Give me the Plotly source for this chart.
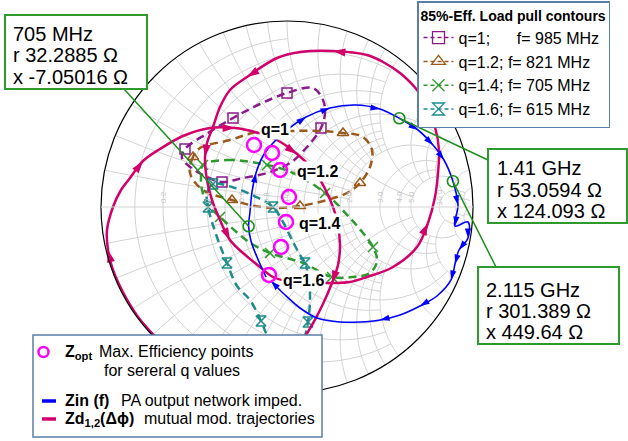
import numpy as np
import plotly.graph_objects as go

W, H = 628, 441
FONT = "Liberation Sans, Arial, sans-serif"
Z0 = 50.0

# ---- marked frequencies of Zin(f) (ohms) ----
MARK_FREQ = ["705 MHz", "1.41 GHz", "2.115 GHz"]
MARK_R = [32.2885, 53.0594, 301.389]
MARK_X = [-7.05016, 124.093, 449.64]

# ---- Zin(f): PA output network impedance, normalised to Z0, split at the marks ----
ZIN_R_A = [0.6127, 0.6346, 0.6373]
ZIN_X_A = [-0.5454, -0.3784, -0.2508]
ZIN_R_B = [0.6673, 0.6755, 0.6732, 0.6728, 0.6872, 0.7074, 0.7262, 0.7585, 0.8043, 0.8954]
ZIN_X_B = [-0.0374, 0.1137, 0.2622, 0.4062, 0.5399, 0.7068, 0.9303, 1.2175, 1.5597, 1.9972]
ZIN_R_C = [1.285, 1.733, 2.537]
ZIN_X_C = [3.199, 4.237, 5.732]
ZIN_R_D = [23.4, 8.775, 6.44, 0.886, 1.547, 0.874, 0.4079, 0.453, 0.5635, 0.598,
           0.6153, 0.6171, 0.6004, 0.5831, 0.6037, 0.6241, 0.6237]
ZIN_X_D = [3.25, -10.32, -22.3, -11.7, -7.822, -5.935, -4.672, -3.592, -2.921, -2.364,
           -1.963, -1.646, -1.3838, -1.1264, -0.9363, -0.7476, -0.5948]
ZIN_ARROWS = [6, 10, 11, 13, 15, 16, 17, 19, 20, 22, 23, 24, 25, 27, 29, 35]

# ---- Zd1(dphi) and Zd2(dphi) mutual modulation trajectories ----
ZD1_R = [0.0462, 0.00775, 0.00282, 0.00334, 0.00263, 0.00523, 0.0124, 0.0333, 0.0544, 0.0768,
         0.1058, 0.149, 0.2102, 0.2974, 0.4079, 0.5258, 0.6806, 0.9379, 1.2443, 1.548,
         1.7105, 1.5859, 1.3262, 1.0444, 0.723, 0.5031, 0.3555, 0.2407, 0.1383, 0.0462]
ZD1_X = [-0.589, -0.4578, -0.3484, -0.2566, -0.1755, -0.1184, -0.0636, 0.0, 0.0509, 0.091,
         0.1541, 0.2129, 0.2963, 0.3897, 0.4673, 0.5249, 0.5772, 0.5836, 0.4972, 0.2109,
         -0.2591, -0.7388, -0.9994, -1.1019, -1.1296, -1.1017, -1.0543, -0.9569, -0.8042, -0.589]
ZD1_ARROWS = [5, 10, 14, 17, 23]

ZD2_R = [0.8024, 1.0444, 1.2047, 1.4437, 1.976, 3.3986, 6.339, 8.155, 4.468, 1.8713,
         0.8021, 0.4123, 0.2382, 0.1662, 0.1495, 0.1483, 0.1854, 0.1928, 0.2028, 0.2368,
         0.2428, 0.2717, 0.307, 0.322, 0.3414, 0.3842, 0.4243, 0.4665, 0.5031, 0.5552,
         0.6181, 0.657, 0.7405]
ZD2_X = [-0.7918, -1.1019, -1.3443, -1.6138, -2.232, -3.1419, -2.6094, 2.4093, 5.312, 4.8136,
         3.794, 3.0703, 2.5869, 2.1408, 1.852, 1.6466, 1.3208, 1.0687, 0.9144, 0.7114,
         0.5984, 0.5026, 0.4022, 0.3181, 0.2503, 0.1405, 0.0382, -0.0754, -0.2041, -0.311,
         -0.4558, -0.58, -0.7133]
ZD2_ARROWS = [6, 16, 19, 24, 28]

# ---- optimum-efficiency impedances, q = 1 ... 1.6 ----
ZOPT_R = [0.5726, 0.7262, 0.8592, 1.0159, 0.9766, 0.8568, 0.6411]
ZOPT_X = [0.4452, 0.4637, 0.3564, 0.1096, -0.1585, -0.3869, -0.547]

# ---- 85 % efficiency load-pull contours ----
LP_NAMES = ["q=1;\u00a0\u00a0\u00a0\u00a0\u00a0\u00a0f= 985 MHz", "q=1.2; f= 821 MHz",
            "q=1.4; f= 705 MHz", "q=1.6; f= 615 MHz"]
LP_R = [
    [0.2413, 0.3022, 0.3626, 0.4155, 0.4539, 0.4969, 0.6436, 0.791, 0.9269, 0.982,
     0.9217, 0.7579, 0.5921, 0.4675, 0.3809, 0.2887, 0.2431, 0.2413],
    [0.3018, 0.2875, 0.2958, 0.3723, 0.5423, 0.668, 0.86, 1.1502, 1.5421, 1.9164,
     2.15, 2.1383, 1.7935, 1.4071, 1.1613, 0.9502, 0.7338, 0.5369, 0.4227, 0.3018],
    [0.3452, 0.4589, 0.7338, 0.9955, 1.4912, 2.0004, 2.2029, 2.2069, 1.9436, 1.5604,
     1.3035, 1.1166, 0.974, 0.743, 0.6211, 0.4681, 0.4037, 0.3673, 0.3512, 0.3452],
    [0.2578, 0.3113, 0.3611, 0.421, 0.4174, 0.4377, 0.4348, 0.4206, 0.4038, 0.3946,
     0.4197, 0.533, 0.6783, 0.86, 0.9458, 0.9891, 0.9966, 0.9929, 0.876, 0.7217,
     0.5174, 0.3593, 0.263],
]
LP_X = [
    [0.25, 0.3636, 0.5053, 0.6845, 0.8911, 1.1134, 1.1725, 1.1375, 1.0015, 0.7164,
     0.462, 0.2901, 0.2007, 0.1462, 0.1557, 0.1822, 0.2093, 0.25],
    [0.2813, 0.2299, 0.1557, 0.0864, 0.0448, 0.015, -0.0093, 0.0124, 0.1219, 0.324,
     0.669, 1.2188, 1.5765, 1.5318, 1.2302, 0.9687, 0.72, 0.5337, 0.3923, 0.2813],
    [0.2093, 0.2787, 0.3535, 0.3769, 0.2357, -0.2683, -0.757, -1.2828, -1.6558, -1.6406,
     -1.3326, -1.0508, -0.6503, -0.395, -0.2533, -0.058, 0.0106, 0.0858, 0.149, 0.2093],
    [-0.8636, -0.7982, -0.7319, -0.5926, -0.4745, -0.3273, -0.1857, -0.0816, 0.0, 0.0734,
     0.1256, 0.1272, 0.0911, 0.0, -0.1536, -0.3627, -0.554, -0.6643, -0.8579, -0.9823,
     -1.0576, -1.0698, -1.0586],
]
LP_MARKS = [[0, 2, 4, 8, 13], [1, 4, 7, 10, 14], [0, 2, 4, 7, 11, 13, 15], [2, 5, 8, 10, 13, 17, 20]]
LP_COLORS = ["#8B1A8B", "#9A5A1E", "#2E9A2E", "#1E8C8C"]
LP_SYMBOLS = ["square-open", "triangle-up-open", "x-thin-open", "hourglass-open"]

Q_LABELS = ["q=1", "q=1.2", "q=1.4", "q=1.6"]

# ---- Smith chart grid (value, span of the other coordinate) ----
GRID_VALUES = [0.1, 0.2, 0.3, 0.4, 0.5, 0.6, 0.7, 0.8, 0.9, 1.0, 1.2, 1.4, 1.6, 1.8, 2.0, 3.0, 4.0, 5.0, 10.0, 20.0]
GRID_SPAN = [1, 2, 1, 2, 1, 2, 1, 2, 1, 5, 2, 2, 2, 2, 5, 5, 5, 10, 20, 50]
GRID_LABELS = [0.2, 0.4, 0.6, 0.8, 1.0, 2.0, 3.0, 4.0, 5.0, 10.0]

C_BLUE = "#0000FF"
C_ZD = "#D1006B"
C_ZOPT = "#FF00FF"
C_MARK = "#1E8F1E"
C_GRID = "#D2D2D2"
C_FRAME = "#5B7FA6"

# chart circle placement on the page (pixels)
CX, CY, RAD = 287, 207, 186


def px(x):
    return x / W


def py(y):
    return 1 - y / H


def z_to_px(z):
    g = (z - 1) / (z + 1)
    return CX + g.real * RAD, CY - g.imag * RAD


fig = go.Figure()

# grid: constant-resistance arcs and constant-reactance arcs
g_r, g_x = [], []
for v, s in zip(GRID_VALUES, GRID_SPAN):
    t = np.linspace(-np.arctan(s), np.arctan(s), 81)
    g_r += [v] * len(t) + [None]
    g_x += list(np.tan(t)) + [None]
    t = np.linspace(0, np.arctan(s), 61)
    for sgn in (1, -1):
        g_r += list(np.tan(t)) + [None]
        g_x += [sgn * v] * len(t) + [None]
fig.add_trace(go.Scattersmith(real=g_r, imag=g_x, mode="lines", hoverinfo="skip",
                              line=dict(color=C_GRID, width=1), showlegend=False))

# load-pull contours
for i in range(4):
    n = len(LP_R[i])
    op = [1 if k in LP_MARKS[i] else 0 for k in range(n)]
    fig.add_trace(go.Scattersmith(
        real=LP_R[i], imag=LP_X[i], mode="lines+markers", showlegend=False,
        line=dict(color=LP_COLORS[i], width=2.5, dash="8px,5px", shape="spline"),
        marker=dict(symbol=LP_SYMBOLS[i], size=10, opacity=op, color=LP_COLORS[i],
                    line=dict(color=LP_COLORS[i], width=1.5))))


def arrow_trace(r, x, arrows, color, width, size):
    op = [1 if k in arrows else 0 for k in range(len(r))]
    return go.Scattersmith(
        real=r, imag=x, mode="lines+markers", showlegend=False,
        line=dict(color=color, width=width, shape="spline"),
        marker=dict(symbol="arrow", size=size, angleref="previous", opacity=op,
                    color=color, line=dict(width=0)))


fig.add_trace(arrow_trace(ZD1_R, ZD1_X, ZD1_ARROWS, C_ZD, 2.5, 13))
fig.add_trace(arrow_trace(ZD2_R, ZD2_X, ZD2_ARROWS, C_ZD, 2.5, 13))

zin_r = ZIN_R_A + [MARK_R[0] / Z0] + ZIN_R_B + [MARK_R[1] / Z0] + ZIN_R_C + [MARK_R[2] / Z0] + ZIN_R_D
zin_x = ZIN_X_A + [MARK_X[0] / Z0] + ZIN_X_B + [MARK_X[1] / Z0] + ZIN_X_C + [MARK_X[2] / Z0] + ZIN_X_D
fig.add_trace(arrow_trace(zin_r, zin_x, ZIN_ARROWS, C_BLUE, 1.6, 10))

# frequency markers
fig.add_trace(go.Scattersmith(
    real=[r / Z0 for r in MARK_R], imag=[x / Z0 for x in MARK_X], mode="markers", showlegend=False,
    marker=dict(symbol="circle-open", size=11, color=C_MARK, line=dict(color=C_MARK, width=1.6))))

# optimum points
fig.add_trace(go.Scattersmith(
    real=ZOPT_R, imag=ZOPT_X, mode="markers", showlegend=False,
    marker=dict(symbol="circle-open", size=14, color=C_ZOPT, line=dict(color=C_ZOPT, width=2.5))))

# legend of the load-pull contours
for i in range(4):
    fig.add_trace(go.Scattersmith(
        real=[None], imag=[None], mode="lines+markers", legend="legend", name=LP_NAMES[i],
        line=dict(color=LP_COLORS[i], width=1.5, dash="4px,3px"),
        marker=dict(symbol=LP_SYMBOLS[i], size=12, color=LP_COLORS[i],
                    line=dict(color=LP_COLORS[i], width=1.3))))

shapes, annotations = [], []


def text(x, y, s, size=16, anchor="left", **kw):
    annotations.append(dict(xref="paper", yref="paper", x=px(x), y=py(y), text=s,
                            showarrow=False, xanchor=anchor, yanchor="middle",
                            font=dict(family=FONT, size=size, color=kw.pop("color", "black")), **kw))


# resistance-circle labels along the real axis
for v in GRID_LABELS:
    lx, _ = z_to_px(complex(v, 0))
    text(lx, CY - 10, f"{v:.1f}", size=8, anchor="center", color="#C4C4C4", textangle=-90)

# ---- callout boxes for the marked frequencies ----
BOXES = [((5, 15, 147, 89), (124, 89), 11, [34, 55, 77]),
         ((488, 149, 627, 223), (488, 160), 495, [168, 190, 211]),
         ((478, 267, 619, 344), (496, 267), 484, [290, 311, 332])]
for k, (rect, anchor, tx, tys) in enumerate(BOXES):
    mx, my = z_to_px(complex(MARK_R[k], MARK_X[k]) / Z0)
    shapes.append(dict(type="line", xref="paper", yref="paper", layer="above",
                       x0=px(anchor[0]), y0=py(anchor[1]), x1=px(mx), y1=py(my),
                       line=dict(color="#1E8F1E", width=1.5)))
    shapes.append(dict(type="rect", xref="paper", yref="paper", layer="above",
                       x0=px(rect[0]), y0=py(rect[1]), x1=px(rect[2]), y1=py(rect[3]),
                       fillcolor="white", line=dict(color="#2E9A2E", width=2)))
    for s, ty in zip([MARK_FREQ[k], f"r {MARK_R[k]:g} Ω", f"x {MARK_X[k]:g} Ω"], tys):
        text(tx, ty, s, size=20)

# q labels
Q_POS = [(275, 129), (317, 171), (319, 223), (303, 280)]
for s, (qx, qy) in zip(Q_LABELS, Q_POS):
    text(qx, qy, f"<b>{s}</b>", size=16, anchor="center", bgcolor="white", borderpad=1)

# ---- key for Zopt, Zin and Zd ----
shapes.append(dict(type="rect", xref="paper", yref="paper", layer="above",
                   x0=px(33), y0=py(335), x1=px(322), y1=py(437),
                   fillcolor="white", line=dict(color=C_FRAME, width=1.5)))
shapes.append(dict(type="circle", xref="paper", yref="paper", layer="above",
                   x0=px(38.5), y0=py(347), x1=px(48.5), y1=py(357),
                   line=dict(color=C_ZOPT, width=2.5)))
shapes.append(dict(type="line", xref="paper", yref="paper", layer="above",
                   x0=px(42), y0=py(401), x1=px(56), y1=py(401), line=dict(color=C_BLUE, width=3.5)))
shapes.append(dict(type="line", xref="paper", yref="paper", layer="above",
                   x0=px(42), y0=py(419), x1=px(56), y1=py(419), line=dict(color=C_ZD, width=3.5)))
text(63, 352, "<b>Z</b><sub><b>opt</b></sub>")
text(97, 351, "Max. Efficiency points")
text(102, 370, "for sereral q values")
text(63, 400, "<b>Zin (f)</b>")
text(119, 400, "PA output network imped.")
text(63, 419, "<b>Zd</b><sub><b>1,2</b></sub><b>(Δϕ)</b>")
text(142, 418, "mutual mod. trajectories")

fig.update_layout(
    width=W, height=H, margin=dict(l=0, r=0, t=0, b=0),
    paper_bgcolor="white", plot_bgcolor="white",
    font=dict(family=FONT, color="black"),
    smith=dict(
        domain=dict(x=[px(CX - RAD), px(CX + RAD)], y=[py(CY + RAD), py(CY - RAD)]),
        bgcolor="white",
        realaxis=dict(showgrid=False, showticklabels=False, ticks="", linecolor=C_GRID, linewidth=1),
        imaginaryaxis=dict(showgrid=False, showticklabels=False, ticks="", linecolor="black", linewidth=1.2),
    ),
    shapes=shapes, annotations=annotations,
    legend=dict(x=px(417), y=py(1), xanchor="left", yanchor="top", bgcolor="white",
                bordercolor=C_FRAME, borderwidth=1.5, font=dict(family=FONT, size=16),
                title=dict(text="<b>85%-Eff. Load pull contours</b>", font=dict(family=FONT, size=14)),
                itemwidth=30, tracegroupgap=0),
    showlegend=True,
)

fig.write_html("out.html")
